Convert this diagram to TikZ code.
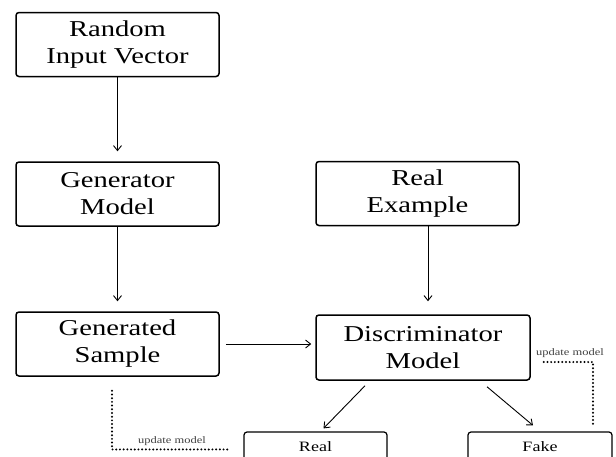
\documentclass[tikz,border=0pt]{standalone}
\usepackage{fontspec}
\setmainfont{Liberation Serif}
\newfontfamily\bfnt[FakeStretch=1.26]{Liberation Serif}
\usetikzlibrary{arrows.meta,calc}
\begin{document}
\begin{tikzpicture}[x=1pt,y=-1pt,
 box/.style={draw, line width=1.5pt, rounded corners=3pt, minimum width=203pt, minimum height=64pt, align=center, inner sep=0pt, font=\bfnt\fontsize{22.7}{27}\selectfont},
 outbox/.style={draw, line width=1.2pt, rounded corners=3pt, minimum width=143pt, minimum height=30pt, inner sep=0pt, font=\bfnt\fontsize{14.3}{16}\selectfont},
 arr/.style={-{Straight Barb[length=5pt,width=8pt]}, line width=0.9pt},
 upd/.style={line width=2.2pt, line cap=round, dash pattern=on 0pt off 3.7pt},
 lbl/.style={font=\bfnt\fontsize{9.9}{11}\selectfont, text=black!75, inner sep=0pt, anchor=base}
]
\useasboundingbox (0,0) rectangle (616,456);
\clip (0,0) rectangle (616,456);
\fill[white] (0,0) rectangle (616,456);

\node[box] (rand) at (117.5,44.5) {Random\\Input Vector};
\node[box] (gen) at (117.5,194) {Generator\\Model};
\node[box] (realex) at (417.5,193.5) {Real\\Example};
\node[box] (gsamp) at (117.5,344) {Generated\\Sample};
\node[box, minimum width=214pt, minimum height=65pt] (disc) at (423,347.5) {Discriminator\\Model};
\node[outbox] (realout) at (315.5,447) {Real};
\node[outbox, minimum width=144pt] (fakeout) at (540,447) {Fake};

\draw[arr, shorten >=10pt] (rand) -- (gen);
\draw[arr, shorten >=10pt] (gen) -- (gsamp);
\draw[arr, shorten >=13pt] ($(realex.south)+(10.5,0)$) -- ($(realex.south |- disc.north)+(10.5,0)$);
\draw[arr, shorten <=6pt, shorten >=4pt] (gsamp.east) -- (gsamp.east -| disc.west);
\draw[arr] ($(disc.south)+(-58,5)$) -- ($(realout.north)+(8,-3)$);
\draw[arr] ($(disc.south)+(64,6)$) -- ($(fakeout.north)+(-7,-6)$);

\draw[upd] ($(gsamp.south)+(-5.5,14)$) |- ($(realout.north west)+(-16,18)$);
\node[lbl] (lbla) at (172,443) {update model};
\draw[upd] ($(disc.east)+(13,14.5)$) -| ($(fakeout.north)+(53,-7)$);
\node[lbl] (lblb) at (570,355) {update model};
\end{tikzpicture}
\end{document}
